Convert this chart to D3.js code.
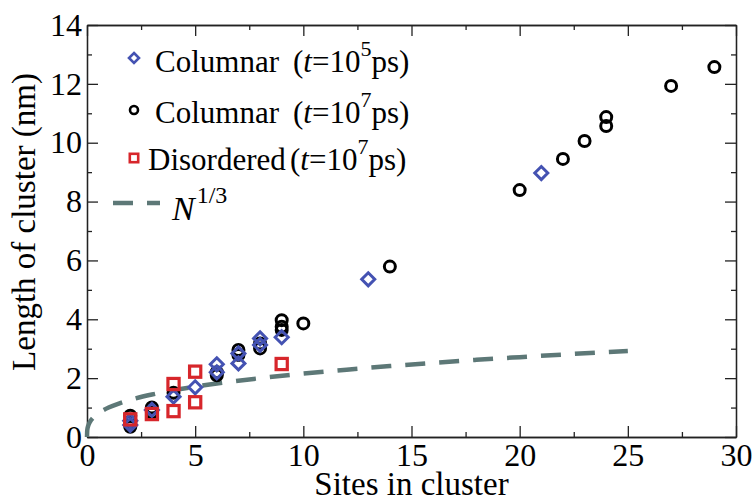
<!DOCTYPE html>
<html>
<head>
<meta charset="utf-8">
<script src="https://cdn.jsdelivr.net/npm/d3@7"></script>
<style>
  html, body { margin: 0; padding: 0; background: #fff; }
  svg, svg text { font-family: 'Liberation Serif', 'DejaVu Serif', serif; }
</style>
</head>
<body>
<svg id="chart" width="754" height="498" font-family="Liberation Serif"></svg>
<script>
// ---- data ----
const colT5N = [2, 2, 3, 4, 5, 6, 6, 7, 7, 8, 8, 9, 13, 21];
const colT5L = [0.41, 0.55, 0.92, 1.37, 1.69, 2.2, 2.47, 2.5, 2.84, 3.13, 3.35, 3.39, 5.36, 8.97];

const colT7N = [2, 2, 2, 3, 3, 4, 6, 6, 7, 7, 8, 8, 9, 9, 9, 10, 14, 20, 22, 23, 24, 24, 27, 29];
const colT7L = [0.35, 0.52, 0.72, 0.82, 1.0, 1.5, 2.1, 2.2, 2.79, 2.96, 3.01, 3.18, 3.64, 3.75, 3.97, 3.86, 5.79, 8.39, 9.45, 10.06, 10.57, 10.87, 11.93, 12.57];

const disN = [2, 3, 4, 4, 5, 5, 9];
const disL = [0.6, 0.78, 0.88, 1.8, 1.18, 2.22, 2.48];

// N^(1/3) reference curve
const curveN = [0, 0.01, 0.02, 0.05, 0.1, 0.2, 0.35, 0.5, 0.75, 1, 1.5, 2, 3, 4, 5, 6, 8, 10, 12, 14, 16, 18, 20, 22, 25];
const curveL = [0, 0.215, 0.271, 0.368, 0.464, 0.585, 0.705, 0.794, 0.909, 1, 1.145, 1.26, 1.442, 1.587, 1.71, 1.817, 2, 2.154, 2.289, 2.41, 2.52, 2.621, 2.714, 2.802, 2.924];

const xMajor = [0, 5, 10, 15, 20, 25, 30];
const xMinor = [2.5, 7.5, 12.5, 17.5, 22.5, 27.5];
const yMajor = [0, 2, 4, 6, 8, 10, 12, 14];
const yMinor = [1, 3, 5, 7, 9, 11, 13];

const legendRows = [
  { name: "Columnar", exp: "5", kind: "diamond" },
  { name: "Columnar", exp: "7", kind: "circle" },
  { name: "Disordered", exp: "7", kind: "square" }
];

// ---- styles ----
const FONT = "Liberation Serif";
const BLUE = "#4452b2", RED = "#d7262b", BLACK = "#000", LINEC = "#5d7877";

const svg = d3.select("#chart");
const x = d3.scaleLinear().domain([0, 30]).range([87, 736]);
const y = d3.scaleLinear().domain([0, 14]).range([437, 25]);

const axisColor = "#222";
function styleAxis(g) {
  g.attr("font-family", FONT);
  g.select(".domain").attr("stroke", axisColor).attr("stroke-width", 1.3);
  g.selectAll(".tick line").attr("stroke", axisColor).attr("stroke-width", 1.3);
  g.selectAll(".tick text").attr("font-family", FONT).attr("font-size", 32).attr("fill", "#000");
}

// bottom
svg.append("g").attr("transform", `translate(0,${y(0)})`)
  .call(d3.axisBottom(x).tickValues(xMajor).tickSize(-11).tickSizeOuter(0).tickPadding(6).tickFormat(d3.format("d")))
  .call(styleAxis);
svg.append("g").attr("transform", `translate(0,${y(0)})`)
  .call(d3.axisBottom(x).tickValues(xMinor).tickSize(-5).tickSizeOuter(0).tickFormat(""))
  .call(styleAxis);
// top
svg.append("g").attr("transform", `translate(0,${y(14)})`)
  .call(d3.axisTop(x).tickValues(xMajor).tickSize(-11).tickSizeOuter(0).tickFormat(""))
  .call(styleAxis);
svg.append("g").attr("transform", `translate(0,${y(14)})`)
  .call(d3.axisTop(x).tickValues(xMinor).tickSize(-5).tickSizeOuter(0).tickFormat(""))
  .call(styleAxis);
// left
svg.append("g").attr("transform", `translate(${x(0)},0)`)
  .call(d3.axisLeft(y).tickValues(yMajor).tickSize(-11).tickSizeOuter(0).tickPadding(5).tickFormat(d3.format("d")))
  .call(styleAxis);
svg.append("g").attr("transform", `translate(${x(0)},0)`)
  .call(d3.axisLeft(y).tickValues(yMinor).tickSize(-5).tickSizeOuter(0).tickFormat(""))
  .call(styleAxis);
// right
svg.append("g").attr("transform", `translate(${x(30)},0)`)
  .call(d3.axisRight(y).tickValues(yMajor).tickSize(-11).tickSizeOuter(0).tickFormat(""))
  .call(styleAxis);
svg.append("g").attr("transform", `translate(${x(30)},0)`)
  .call(d3.axisRight(y).tickValues(yMinor).tickSize(-5).tickSizeOuter(0).tickFormat(""))
  .call(styleAxis);

// axis titles
svg.append("text").attr("x", (x(0) + x(30)) / 2).attr("y", 495)
  .attr("font-family", FONT).attr("text-anchor", "middle").attr("font-size", 33).text("Sites in cluster");
svg.append("text").attr("transform", "translate(35,222) rotate(-90)")
  .attr("font-family", FONT).attr("text-anchor", "middle").attr("font-size", 33).text("Length of cluster (nm)");

// N^(1/3) curve
const line = d3.line().x((d, i) => x(curveN[i])).y((d, i) => y(curveL[i])).curve(d3.curveMonotoneX);
svg.append("path").datum(curveN).attr("d", line)
  .attr("fill", "none").attr("stroke", LINEC).attr("stroke-width", 4.5)
  .attr("stroke-dasharray", "20,14");

// markers
const sym = {
  circle: (g, cx, cy, s) => g.append("circle").attr("cx", cx).attr("cy", cy).attr("r", s),
  diamond: (g, cx, cy, s) => g.append("path")
    .attr("d", `M${cx},${cy - s}L${cx + s},${cy}L${cx},${cy + s}L${cx - s},${cy}Z`),
  square: (g, cx, cy, s) => g.append("rect").attr("x", cx - s).attr("y", cy - s).attr("width", 2 * s).attr("height", 2 * s)
};

const gC = svg.append("g").attr("fill", "none").attr("stroke", BLACK).attr("stroke-width", 3);
colT7N.forEach((n, i) => sym.circle(gC, x(n), y(colT7L[i]), 5.5));
const gD = svg.append("g").attr("fill", "none").attr("stroke", BLUE).attr("stroke-width", 3);
colT5N.forEach((n, i) => sym.diamond(gD, x(n), y(colT5L[i]), 6.5));
const gS = svg.append("g").attr("fill", "none").attr("stroke", RED).attr("stroke-width", 3.2);
disN.forEach((n, i) => sym.square(gS, x(n), y(disL[i]), 5.6));

// legend
const rowY = [72, 123, 170];
const nameX = [155, 155, 148];
const parX = [293, 293, 290];
const markY = [58, 110, 158];
legendRows.forEach((r, i) => {
  const col = r.kind === "diamond" ? BLUE : r.kind === "circle" ? BLACK : RED;
  const g = svg.append("g").attr("fill", "none").attr("stroke", col).attr("stroke-width", 2.6);
  const s = r.kind === "diamond" ? 5 : r.kind === "circle" ? 4 : 4.2;
  sym[r.kind](g, 134, markY[i], s);
  svg.append("text").attr("x", nameX[i]).attr("y", rowY[i]).attr("font-family", FONT).attr("font-size", 31).text(r.name);
  const t = svg.append("text").attr("x", parX[i]).attr("y", rowY[i]).attr("font-family", FONT).attr("font-size", 31);
  t.append("tspan").text("(");
  t.append("tspan").attr("font-style", "italic").text("t");
  t.append("tspan").text("=10");
  t.append("tspan").attr("font-size", 22).attr("dy", -16).text(r.exp);
  t.append("tspan").attr("dy", 16).text("ps)");
});
svg.append("line").attr("x1", 113).attr("x2", 160).attr("y1", 203).attr("y2", 203)
  .attr("stroke", LINEC).attr("stroke-width", 4.5).attr("stroke-dasharray", "20,14");
const nt = svg.append("text").attr("x", 172).attr("y", 220).attr("font-family", FONT).attr("font-size", 34);
nt.append("tspan").attr("font-style", "italic").text("N");
nt.append("tspan").attr("font-size", 24).attr("dy", -17).attr("dx", 2).text("1/3");
</script>
</body>
</html>
